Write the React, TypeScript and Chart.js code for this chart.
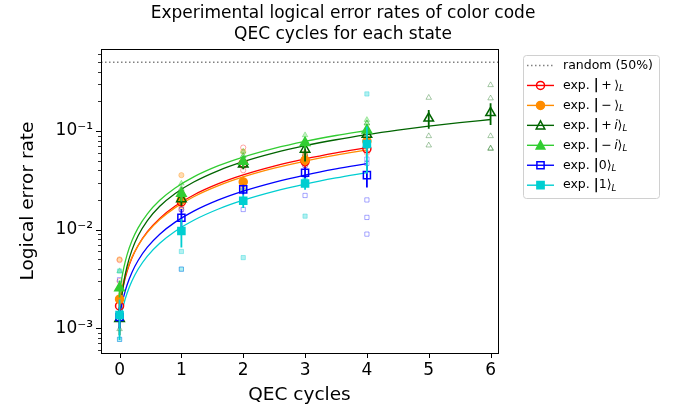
import React, { useEffect, useRef } from 'react';
import { Chart, registerables } from 'chart.js';

Chart.register(...registerables);

// ---------- data ----------
const CYCLES = [0, 1, 2, 3, 4];
const CYCLES_PLUS_I = [0, 1, 2, 3, 4, 5, 6];

const PLUS = [0.00168, 0.0191, 0.047, 0.049, 0.066];
const PLUS_ERR = [0.0003, 0.002, 0.005, 0.009, 0.006];
const MINUS = [0.00197, 0.02, 0.0305, 0.0508, 0.079];
const MINUS_ERR = [0.0003, 0.002, 0.004, 0.006, 0.007];
const PLUS_I = [0.00125, 0.0205, 0.046, 0.065, 0.092, 0.1345, 0.153];
const PLUS_I_ERR = [0.0004, 0.003, 0.005, 0.016, 0.012, 0.029, 0.038];
const MINUS_I = [0.00255, 0.0233, 0.049, 0.076, 0.102];
const MINUS_I_ERR = [0.0005, 0.004, 0.006, 0.01, 0.015];
const ZERO = [0.0013, 0.0132, 0.0256, 0.0377, 0.0357];
const ZERO_ERR = [0.0003, 0.003, 0.003, 0.005, 0.009];
const ONE = [0.00136, 0.0097, 0.0196, 0.0294, 0.074];
const ONE_ERR = [0.0006, 0.0031, 0.003, 0.004, 0.037];

// individual runs [cycle, error rate]
const RUNS_PLUS = [[0, 0.0049], [0, 0.003], [1, 0.024], [1, 0.016], [2, 0.068], [2, 0.04], [3, 0.057], [3, 0.045], [4, 0.074], [4, 0.06]];
const RUNS_MINUS = [[0, 0.005], [1, 0.0357], [1, 0.017], [2, 0.062], [2, 0.026], [3, 0.06], [4, 0.085], [4, 0.07]];
const RUNS_PLUS_I = [[0, 0.00098], [1, 0.026], [2, 0.056], [3, 0.078], [3, 0.058], [4, 0.12], [4, 0.1], [5, 0.218], [5, 0.089], [5, 0.0716], [6, 0.293], [6, 0.215], [6, 0.089], [6, 0.067], [6, 0.066]];
const RUNS_MINUS_I = [[0, 0.0038], [1, 0.0294], [2, 0.0557], [2, 0.062], [3, 0.091], [4, 0.13], [4, 0.12]];
const RUNS_ZERO = [[0, 0.0031], [0, 0.00077], [1, 0.00397], [1, 0.016], [2, 0.016], [2, 0.03], [3, 0.0222], [3, 0.045], [4, 0.052], [4, 0.047], [4, 0.02], [4, 0.0133], [4, 0.009]];
const RUNS_ONE = [[0, 0.0038], [0, 0.00077], [1, 0.006], [1, 0.00397], [2, 0.0052], [2, 0.025], [3, 0.0137], [3, 0.034], [4, 0.238]];

// fitted curves
const FIT_X = [0, 0.03, 0.07, 0.12, 0.2, 0.3, 0.45, 0.65, 0.9, 1.2, 1.6, 2, 2.5, 3, 3.5, 4];
const FIT_X_LONG = [0, 0.03, 0.07, 0.12, 0.2, 0.3, 0.45, 0.65, 0.9, 1.2, 1.6, 2, 2.5, 3, 3.5, 4, 4.5, 5, 5.5, 6];
const FIT_PLUS = [0.0016, 0.00213, 0.00284, 0.00373, 0.00514, 0.0069, 0.00953, 0.013, 0.01733, 0.02246, 0.02922, 0.03588, 0.04407, 0.05212, 0.06003, 0.0678];
const FIT_MINUS = [0.0019, 0.0024, 0.00307, 0.0039, 0.00523, 0.00689, 0.00937, 0.01265, 0.01672, 0.02156, 0.02794, 0.03423, 0.04198, 0.0496, 0.0571, 0.06447];
const FIT_PLUS_I = [0.0012, 0.00195, 0.00295, 0.0042, 0.00619, 0.00866, 0.01235, 0.01723, 0.02325, 0.03039, 0.03973, 0.04889, 0.06008, 0.07099, 0.08163, 0.09201, 0.10213, 0.112, 0.12163, 0.13101];
const FIT_MINUS_I = [0.0022, 0.00303, 0.00413, 0.00551, 0.0077, 0.01042, 0.01448, 0.01984, 0.02646, 0.03428, 0.04451, 0.05451, 0.06671, 0.07857, 0.09011, 0.10132];
const FIT_ZERO = [0.0013, 0.00166, 0.00213, 0.00273, 0.00368, 0.00486, 0.00663, 0.00898, 0.01191, 0.01539, 0.02, 0.02456, 0.0302, 0.03578, 0.04129, 0.04674];
const FIT_ONE = [0.0011, 0.00139, 0.00177, 0.00225, 0.00301, 0.00396, 0.00539, 0.00728, 0.00964, 0.01245, 0.01618, 0.01988, 0.02446, 0.029, 0.0335, 0.03795];

const RANDOM_LEVEL = 0.5;
const X_TICKS = [0, 1, 2, 3, 4, 5, 6];
const Y_MAJOR = [0.001, 0.01, 0.1];
const Y_LABELS = ['10\u207B\u00B3', '10\u207B\u00B2', '10\u207B\u00B9'];
const X_MIN = -0.3;
const X_MAX = 6.12;
const Y_MIN = 0.00056;
const Y_MAX = 0.68;

const TITLE = ['Experimental logical error rates of color code', 'QEC cycles for each state'];

// ---------- styles ----------
const FONT = "'DejaVu Sans', sans-serif";
const RED = '#ff0000';
const ORANGE = '#ff8c00';
const DGREEN = '#006400';
const LGREEN = '#32cd32';
const BLUE = '#0000ff';
const CYAN = '#00ced1';

function alpha(hex: string, a: number) {
  const r = parseInt(hex.slice(1, 3), 16), g = parseInt(hex.slice(3, 5), 16), b = parseInt(hex.slice(5, 7), 16);
  return `rgba(${r},${g},${b},${a})`;
}

type State = { ket: string; italicI: boolean; color: string; style: string; filled: boolean; xs: number[]; ys: number[]; errs: number[]; runs: number[][]; fitX: number[]; fitY: number[] };

const STATES: State[] = [
  { ket: '+', italicI: false, color: RED, style: 'circle', filled: false, xs: CYCLES, ys: PLUS, errs: PLUS_ERR, runs: RUNS_PLUS, fitX: FIT_X, fitY: FIT_PLUS },
  { ket: '\u2212', italicI: false, color: ORANGE, style: 'circle', filled: true, xs: CYCLES, ys: MINUS, errs: MINUS_ERR, runs: RUNS_MINUS, fitX: FIT_X, fitY: FIT_MINUS },
  { ket: '+', italicI: true, color: DGREEN, style: 'triangle', filled: false, xs: CYCLES_PLUS_I, ys: PLUS_I, errs: PLUS_I_ERR, runs: RUNS_PLUS_I, fitX: FIT_X_LONG, fitY: FIT_PLUS_I },
  { ket: '\u2212', italicI: true, color: LGREEN, style: 'triangle', filled: true, xs: CYCLES, ys: MINUS_I, errs: MINUS_I_ERR, runs: RUNS_MINUS_I, fitX: FIT_X, fitY: FIT_MINUS_I },
  { ket: '0', italicI: false, color: BLUE, style: 'rect', filled: false, xs: CYCLES, ys: ZERO, errs: ZERO_ERR, runs: RUNS_ZERO, fitX: FIT_X, fitY: FIT_ZERO },
  { ket: '1', italicI: false, color: CYAN, style: 'rect', filled: true, xs: CYCLES, ys: ONE, errs: ONE_ERR, runs: RUNS_ONE, fitX: FIT_X, fitY: FIT_ONE },
];

function markerRadius(style: string, big: boolean) {
  if (style === 'rect') return big ? 5 : 3;
  if (style === 'triangle') return big ? 5.5 : 3.2;
  return big ? 4 : 2.6;
}

function drawMarker(ctx: CanvasRenderingContext2D, style: string, x: number, y: number, color: string, filled: boolean) {
  ctx.beginPath();
  if (style === 'circle') {
    ctx.arc(x, y, 4, 0, Math.PI * 2);
  } else if (style === 'triangle') {
    ctx.moveTo(x, y - 4.5);
    ctx.lineTo(x - 4.3, y + 3.6);
    ctx.lineTo(x + 4.3, y + 3.6);
    ctx.closePath();
  } else {
    ctx.rect(x - 3.6, y - 3.6, 7.2, 7.2);
  }
  if (filled) { ctx.fillStyle = color; ctx.fill(); }
  ctx.lineWidth = 1.5;
  ctx.strokeStyle = color;
  ctx.stroke();
}

const errorBarPlugin = {
  id: 'errorBars',
  beforeDatasetDraw(chart: any, args: any) {
    const ds = chart.data.datasets[args.index];
    if (!ds.errs) return;
    const ctx = chart.ctx;
    const ys = chart.scales.y;
    const area = chart.chartArea;
    ctx.save();
    ctx.beginPath();
    ctx.rect(area.left, area.top, area.right - area.left, area.bottom - area.top);
    ctx.clip();
    ctx.strokeStyle = ds.errColor;
    ctx.lineWidth = 1.8;
    ctx.beginPath();
    ds.data.forEach((p: any, i: number) => {
      const el = args.meta.data[i];
      const hi = p.y + ds.errs[i];
      const lo = Math.max(p.y - ds.errs[i], Y_MIN * 0.3);
      ctx.moveTo(el.x, ys.getPixelForValue(hi));
      ctx.lineTo(el.x, ys.getPixelForValue(lo));
    });
    ctx.stroke();
    ctx.restore();
  },
};

const frameAndLegendPlugin = {
  id: 'frameLegend',
  afterDraw(chart: any) {
    const ctx: CanvasRenderingContext2D = chart.ctx;
    const a = chart.chartArea;
    const xs = chart.scales.x;
    const ys = chart.scales.y;
    ctx.save();
    // frame
    ctx.strokeStyle = '#000';
    ctx.lineWidth = 1;
    ctx.strokeRect(Math.round(a.left) + 0.5, Math.round(a.top) + 0.5, Math.round(a.right - a.left), Math.round(a.bottom - a.top));
    // ticks
    ctx.beginPath();
    X_TICKS.forEach((v) => {
      const px = Math.round(xs.getPixelForValue(v)) + 0.5;
      ctx.moveTo(px, a.bottom);
      ctx.lineTo(px, a.bottom + 5);
    });
    Y_MAJOR.forEach((v) => {
      const py = Math.round(ys.getPixelForValue(v)) + 0.5;
      ctx.moveTo(a.left, py);
      ctx.lineTo(a.left - 5, py);
    });
    ctx.stroke();
    ctx.beginPath();
    ctx.lineWidth = 0.8;
    for (let d = -4; d <= 0; d++) {
      for (let m = 2; m <= 9; m++) {
        const v = m * Math.pow(10, d);
        if (v < Y_MIN || v > Y_MAX) continue;
        const py = Math.round(ys.getPixelForValue(v)) + 0.5;
        ctx.moveTo(a.left, py);
        ctx.lineTo(a.left - 3, py);
      }
    }
    ctx.stroke();

    // legend
    const bx = 523, by = 55, bw = 136, bh = 143;
    ctx.beginPath();
    ctx.roundRect(bx + 0.5, by + 0.5, bw, bh, 3);
    ctx.fillStyle = 'rgba(255,255,255,0.85)';
    ctx.fill();
    ctx.strokeStyle = '#d0d0d0';
    ctx.lineWidth = 1;
    ctx.stroke();

    const rowH = 19.95;
    const y0 = 65.5;
    const lx0 = 527, lx1 = 554, mx = 540.5, tx = 563;
    const fs = 12.5;
    ctx.textBaseline = 'middle';
    ctx.textAlign = 'left';
    // random
    ctx.beginPath();
    ctx.setLineDash([1.5, 2.5]);
    ctx.strokeStyle = '#808080';
    ctx.lineWidth = 1.5;
    ctx.moveTo(lx0, y0);
    ctx.lineTo(lx1, y0);
    ctx.stroke();
    ctx.setLineDash([]);
    ctx.fillStyle = '#000';
    ctx.font = `${fs}px ${FONT}`;
    ctx.fillText('random (50%)', tx, y0);

    STATES.forEach((s, i) => {
      const y = y0 + rowH * (i + 1);
      ctx.beginPath();
      ctx.strokeStyle = s.color;
      ctx.lineWidth = 1.4;
      ctx.moveTo(lx0, y);
      ctx.lineTo(lx1, y);
      ctx.stroke();
      drawMarker(ctx, s.style, mx, y, s.color, s.filled);
      ctx.fillStyle = '#000';
      let x = tx;
      const put = (t: string, font: string, dy = 0) => {
        ctx.font = font;
        ctx.fillText(t, x, y + dy);
        x += ctx.measureText(t).width;
      };
      const normal = `${fs}px ${FONT}`;
      put('exp. ', normal);
      put('|', `bold ${fs + 1}px ${FONT}`);
      if (s.ket === '0' || s.ket === '1') {
        put(s.ket, normal);
      } else {
        put('\u2009' + s.ket + '\u2009', normal);
        if (s.italicI) put('i', `italic ${fs}px ${FONT}`);
      }
      put('\u27E9', normal);
      put('L', `italic ${fs * 0.7}px ${FONT}`, 3.5);
    });
    ctx.restore();
  },
};

export default function App() {
  const ref = useRef<HTMLCanvasElement>(null);
  useEffect(() => {
    if (!ref.current) return;
    Chart.defaults.color = '#000';
    Chart.defaults.font.family = FONT;

    const datasets: any[] = [];
    datasets.push({
      label: 'random (50%)',
      data: [{ x: X_MIN, y: RANDOM_LEVEL }, { x: X_MAX, y: RANDOM_LEVEL }],
      showLine: true,
      borderColor: '#808080',
      borderWidth: 1.5,
      borderDash: [1.5, 2.5],
      pointRadius: 0,
      order: 40,
    });
    STATES.forEach((s, i) => {
      datasets.push({
        label: 'runs ' + i,
        data: s.runs.map((r) => ({ x: r[0], y: r[1] })),
        pointStyle: s.style,
        pointRadius: markerRadius(s.style, false),
        pointBorderWidth: 1,
        pointBorderColor: alpha(s.color, 0.35),
        pointBackgroundColor: s.filled ? alpha(s.color, 0.3) : 'rgba(0,0,0,0)',
        showLine: false,
        order: 30 - i,
      });
      datasets.push({
        label: 'fit ' + i,
        data: s.fitX.map((x, k) => ({ x, y: s.fitY[k] })),
        showLine: true,
        borderColor: s.color,
        borderWidth: 1.3,
        pointRadius: 0,
        cubicInterpolationMode: 'monotone',
        order: 20 - i,
      });
      datasets.push({
        label: 'exp ' + i,
        data: s.xs.map((x, k) => ({ x, y: s.ys[k] })),
        errs: s.errs,
        errColor: s.color,
        pointStyle: s.style,
        pointRadius: markerRadius(s.style, true),
        pointBorderWidth: 1.5,
        pointBorderColor: s.color,
        pointBackgroundColor: s.filled ? s.color : 'rgba(0,0,0,0)',
        showLine: false,
        order: 10 - i,
      });
    });

    const chart = new Chart(ref.current, {
      type: 'scatter',
      data: { datasets },
      plugins: [errorBarPlugin, frameAndLegendPlugin],
      options: {
        animation: false,
        responsive: false,
        maintainAspectRatio: false,
        layout: { padding: { left: 9, right: 0, top: 0, bottom: 0 } },
        plugins: {
          legend: { display: false },
          tooltip: { enabled: false },
          title: {
            display: true,
            text: TITLE,
            fullSize: true,
            color: '#000',
            font: { family: FONT, size: 17, weight: 'normal', lineHeight: 1.25 },
            padding: { top: 3, bottom: 3.5 },
          },
        },
        scales: {
          x: {
            type: 'linear',
            min: X_MIN,
            max: X_MAX,
            grid: { display: false, drawTicks: false },
            border: { display: false },
            afterBuildTicks: (s: any) => { s.ticks = X_TICKS.map((v) => ({ value: v })); },
            afterFit: (s: any) => { s.height = 62; },
            ticks: { font: { family: FONT, size: 17 }, color: '#000', padding: 7, maxRotation: 0, autoSkip: false, callback: (v: any) => String(v) },
            title: { display: true, text: 'QEC cycles', color: '#000', font: { family: FONT, size: 18.5 }, padding: { top: 0, bottom: 9 } },
          },
          y: {
            type: 'logarithmic',
            min: Y_MIN,
            max: Y_MAX,
            grid: { display: false, drawTicks: false },
            border: { display: false },
            afterBuildTicks: (s: any) => { s.ticks = Y_MAJOR.map((v) => ({ value: v })); },
            afterFit: (s: any) => { s.width = 92; },
            ticks: {
              font: { family: FONT, size: 17 },
              color: '#000',
              padding: 8,
              autoSkip: false,
              callback: (v: any) => { const k = Y_MAJOR.indexOf(Number(v)); return k >= 0 ? Y_LABELS[k] : ''; },
            },
            title: { display: true, text: 'Logical error rate', color: '#000', font: { family: FONT, size: 18.5 }, padding: { top: 8, bottom: 0 } },
          },
          spacer: {
            type: 'linear',
            position: 'right',
            display: true,
            grid: { display: false, drawTicks: false },
            border: { display: false },
            ticks: { display: false },
            afterFit: (s: any) => { s.width = 179; },
          },
        },
      } as any,
    } as any);
    return () => chart.destroy();
  }, []);
  return (
    <div style={{ position: 'absolute', left: 0, top: 0, width: 677, height: 415, background: '#fff' }}>
      <canvas ref={ref} width={677} height={415} style={{ display: 'block' }} />
    </div>
  );
}
